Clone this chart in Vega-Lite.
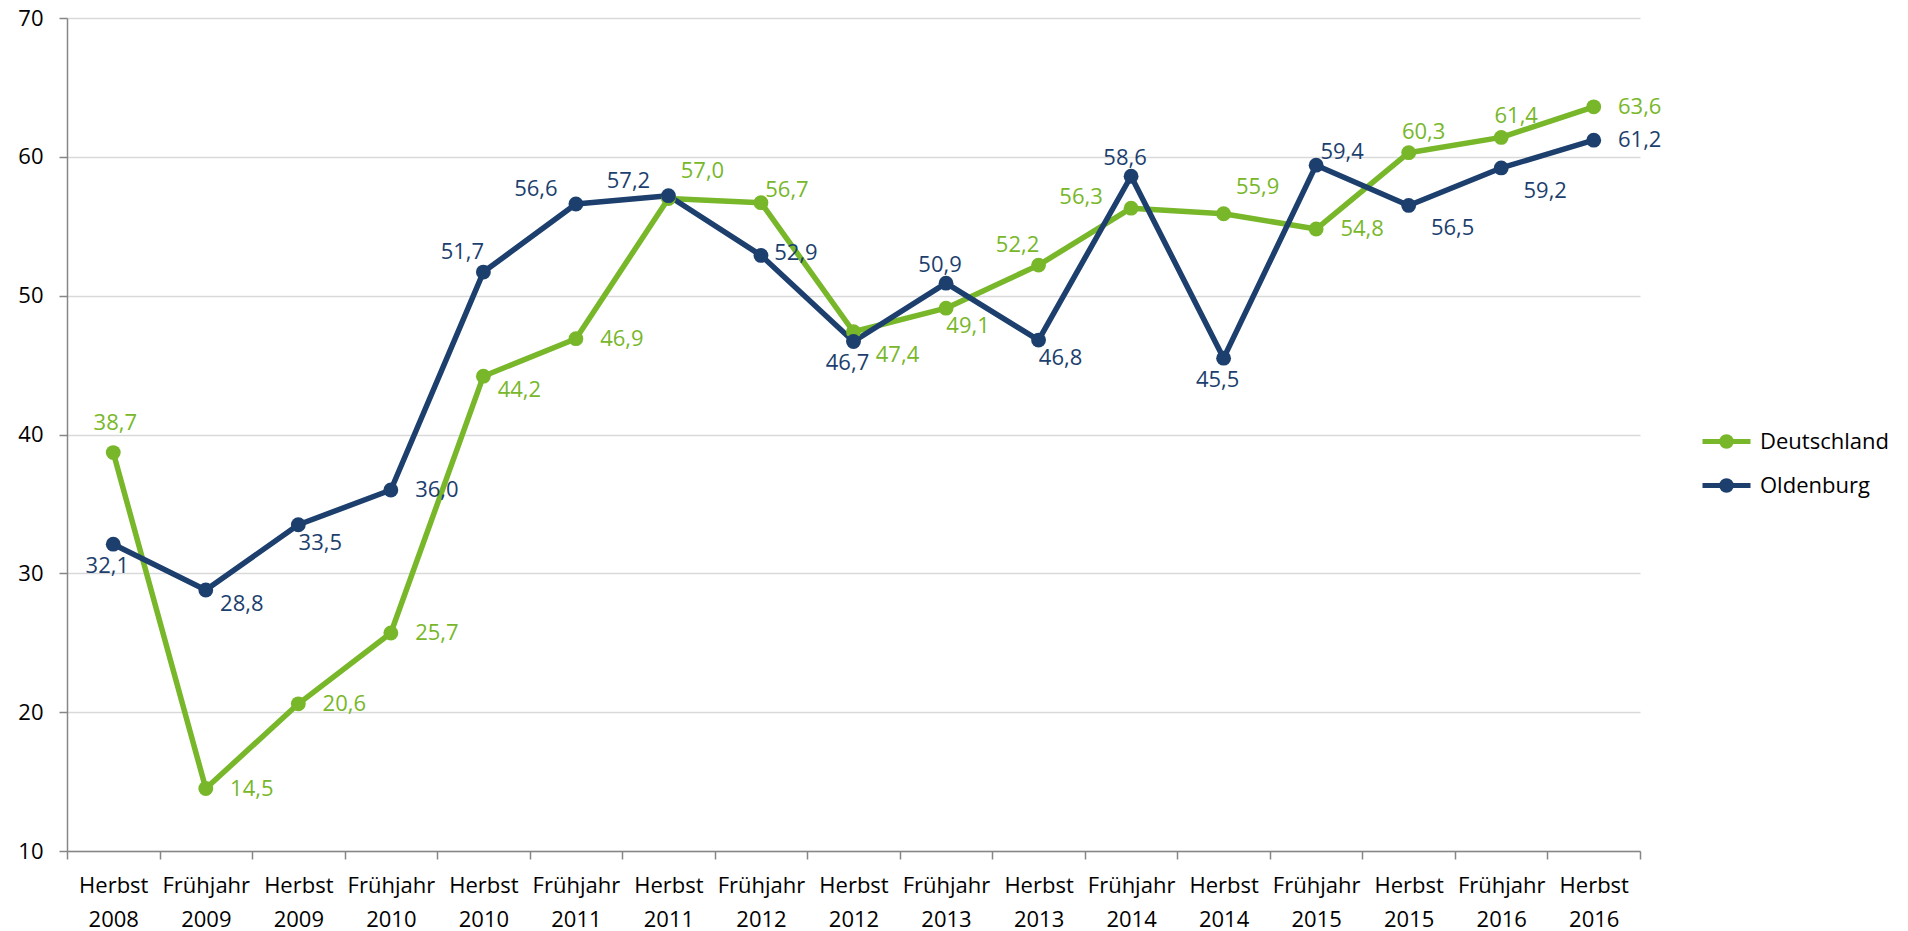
{
  "$schema": "https://vega.github.io/schema/vega-lite/v6.json",
  "width": 1573,
  "height": 833,
  "autosize": "none",
  "padding": {"left": 67, "top": 18, "right": 268, "bottom": 80},
  "background": "#ffffff",
  "config": {
    "view": {"stroke": null},
    "font": "Open Sans",
    "locale": {"number": {"decimal": ",", "thousands": ".", "grouping": [3], "currency": ["", " €"]}}
  },
  "data": {"values": [
    {"period": "Herbst 2008", "series": "Deutschland", "value": 38.7},
    {"period": "Frühjahr 2009", "series": "Deutschland", "value": 14.5},
    {"period": "Herbst 2009", "series": "Deutschland", "value": 20.6},
    {"period": "Frühjahr 2010", "series": "Deutschland", "value": 25.7},
    {"period": "Herbst 2010", "series": "Deutschland", "value": 44.2},
    {"period": "Frühjahr 2011", "series": "Deutschland", "value": 46.9},
    {"period": "Herbst 2011", "series": "Deutschland", "value": 57.0},
    {"period": "Frühjahr 2012", "series": "Deutschland", "value": 56.7},
    {"period": "Herbst 2012", "series": "Deutschland", "value": 47.4},
    {"period": "Frühjahr 2013", "series": "Deutschland", "value": 49.1},
    {"period": "Herbst 2013", "series": "Deutschland", "value": 52.2},
    {"period": "Frühjahr 2014", "series": "Deutschland", "value": 56.3},
    {"period": "Herbst 2014", "series": "Deutschland", "value": 55.9},
    {"period": "Frühjahr 2015", "series": "Deutschland", "value": 54.8},
    {"period": "Herbst 2015", "series": "Deutschland", "value": 60.3},
    {"period": "Frühjahr 2016", "series": "Deutschland", "value": 61.4},
    {"period": "Herbst 2016", "series": "Deutschland", "value": 63.6},
    {"period": "Herbst 2008", "series": "Oldenburg", "value": 32.1},
    {"period": "Frühjahr 2009", "series": "Oldenburg", "value": 28.8},
    {"period": "Herbst 2009", "series": "Oldenburg", "value": 33.5},
    {"period": "Frühjahr 2010", "series": "Oldenburg", "value": 36.0},
    {"period": "Herbst 2010", "series": "Oldenburg", "value": 51.7},
    {"period": "Frühjahr 2011", "series": "Oldenburg", "value": 56.6},
    {"period": "Herbst 2011", "series": "Oldenburg", "value": 57.2},
    {"period": "Frühjahr 2012", "series": "Oldenburg", "value": 52.9},
    {"period": "Herbst 2012", "series": "Oldenburg", "value": 46.7},
    {"period": "Frühjahr 2013", "series": "Oldenburg", "value": 50.9},
    {"period": "Herbst 2013", "series": "Oldenburg", "value": 46.8},
    {"period": "Frühjahr 2014", "series": "Oldenburg", "value": 58.6},
    {"period": "Herbst 2014", "series": "Oldenburg", "value": 45.5},
    {"period": "Frühjahr 2015", "series": "Oldenburg", "value": 59.4},
    {"period": "Herbst 2015", "series": "Oldenburg", "value": 56.5},
    {"period": "Frühjahr 2016", "series": "Oldenburg", "value": 59.2},
    {"period": "Herbst 2016", "series": "Oldenburg", "value": 61.2}
  ]},
  "encoding": {
    "x": {
      "field": "period", "type": "nominal",
      "sort": ["Herbst 2008", "Frühjahr 2009", "Herbst 2009", "Frühjahr 2010", "Herbst 2010", "Frühjahr 2011", "Herbst 2011", "Frühjahr 2012", "Herbst 2012", "Frühjahr 2013", "Herbst 2013", "Frühjahr 2014", "Herbst 2014", "Frühjahr 2015", "Herbst 2015", "Frühjahr 2016", "Herbst 2016"],
      "scale": {"paddingInner": 0, "paddingOuter": 0},
      "axis": {
        "title": null, "labelAngle": 0, "labelExpr": "isString(datum.value) ? split(datum.value, ' ') : ''",
        "labelFontSize": 22, "labelLineHeight": 34, "labelPadding": 16, "labelColor": "#000000",
        "tickBand": "extent", "tickSize": 8, "tickColor": "#868686", "tickWidth": 1.5,
        "domainColor": "#868686", "domainWidth": 1.5, "grid": false
      }
    },
    "y": {
      "field": "value", "type": "quantitative",
      "scale": {"domain": [10, 70], "nice": false, "zero": false},
      "axis": {
        "title": null, "values": [10, 20, 30, 40, 50, 60, 70], "grid": true,
        "gridColor": "#D9D9D9", "gridWidth": 1.3,
        "tickSize": 8, "tickColor": "#868686", "tickWidth": 1.5,
        "domainColor": "#868686", "domainWidth": 1.5,
        "labelFontSize": 22, "labelPadding": 16, "labelColor": "#000000"
      }
    }
  },
  "layer": [
    {
      "mark": {"type": "line", "strokeWidth": 5.5, "strokeJoin": "round", "strokeCap": "round"},
      "encoding": {
        "color": {
          "field": "series", "type": "nominal",
          "scale": {"domain": ["Deutschland", "Oldenburg"], "range": ["#78B72A", "#1C3F6E"]},
          "legend": {
            "orient": "none", "legendX": 1633, "legendY": 397, "title": null, "padding": 0,
            "symbolType": "M-1,0L1,0M0.2,0A0.2,0.2,0,1,1,-0.2,0A0.2,0.2,0,1,1,0.2,0Z",
            "symbolSize": 2304, "symbolStrokeWidth": 5, "labelFontSize": 22, "labelOffset": 7,
            "rowPadding": 2, "labelColor": "#000000", "symbolOpacity": 1,
            "encode": {"symbols": {"update": {"fill": {"scale": "color", "field": "value"}, "stroke": {"scale": "color", "field": "value"}}}}
          }
        }
      }
    },
    {
      "mark": {"type": "point", "filled": true, "size": 220, "opacity": 1},
      "encoding": {
        "color": {"field": "series", "type": "nominal", "scale": {"domain": ["Deutschland", "Oldenburg"], "range": ["#78B72A", "#1C3F6E"]}}
      }
    },
    {
      "transform": [{"filter": "indexof(['D|Frühjahr 2009','D|Herbst 2009','D|Frühjahr 2010','D|Frühjahr 2011','D|Frühjahr 2015','D|Herbst 2016','O|Frühjahr 2010','O|Herbst 2016'], substring(datum.series,0,1)+'|'+datum.period) >= 0"}],
      "mark": {"type": "text", "dx": 46, "dy": 0, "fontSize": 22, "align": "center", "baseline": "middle"},
      "encoding": {"text": {"field": "value", "type": "quantitative", "format": ".1f"}, "fill": {"field": "series", "type": "nominal", "scale": {"domain": ["Deutschland", "Oldenburg"], "range": ["#78B72A", "#1C3F6E"]}, "legend": null}}
    },
    {
      "transform": [{"filter": "indexof(['D|Herbst 2011','D|Herbst 2014'], substring(datum.series,0,1)+'|'+datum.period) >= 0"}],
      "mark": {"type": "text", "dx": 34, "dy": -27, "fontSize": 22, "align": "center", "baseline": "middle"},
      "encoding": {"text": {"field": "value", "type": "quantitative", "format": ".1f"}, "fill": {"field": "series", "type": "nominal", "scale": {"domain": ["Deutschland", "Oldenburg"], "range": ["#78B72A", "#1C3F6E"]}, "legend": null}}
    },
    {
      "transform": [{"filter": "indexof(['D|Herbst 2012','O|Herbst 2015','O|Frühjahr 2016'], substring(datum.series,0,1)+'|'+datum.period) >= 0"}],
      "mark": {"type": "text", "dx": 44, "dy": 23, "fontSize": 22, "align": "center", "baseline": "middle"},
      "encoding": {"text": {"field": "value", "type": "quantitative", "format": ".1f"}, "fill": {"field": "series", "type": "nominal", "scale": {"domain": ["Deutschland", "Oldenburg"], "range": ["#78B72A", "#1C3F6E"]}, "legend": null}}
    },
    {
      "transform": [{"filter": "indexof(['D|Frühjahr 2012','O|Frühjahr 2015'], substring(datum.series,0,1)+'|'+datum.period) >= 0"}],
      "mark": {"type": "text", "dx": 26, "dy": -13, "fontSize": 22, "align": "center", "baseline": "middle"},
      "encoding": {"text": {"field": "value", "type": "quantitative", "format": ".1f"}, "fill": {"field": "series", "type": "nominal", "scale": {"domain": ["Deutschland", "Oldenburg"], "range": ["#78B72A", "#1C3F6E"]}, "legend": null}}
    },
    {
      "transform": [{"filter": "indexof(['D|Herbst 2010','O|Frühjahr 2009'], substring(datum.series,0,1)+'|'+datum.period) >= 0"}],
      "mark": {"type": "text", "dx": 36, "dy": 14, "fontSize": 22, "align": "center", "baseline": "middle"},
      "encoding": {"text": {"field": "value", "type": "quantitative", "format": ".1f"}, "fill": {"field": "series", "type": "nominal", "scale": {"domain": ["Deutschland", "Oldenburg"], "range": ["#78B72A", "#1C3F6E"]}, "legend": null}}
    },
    {
      "transform": [{"filter": "indexof(['D|Frühjahr 2013','O|Herbst 2009','O|Herbst 2013'], substring(datum.series,0,1)+'|'+datum.period) >= 0"}],
      "mark": {"type": "text", "dx": 22, "dy": 18, "fontSize": 22, "align": "center", "baseline": "middle"},
      "encoding": {"text": {"field": "value", "type": "quantitative", "format": ".1f"}, "fill": {"field": "series", "type": "nominal", "scale": {"domain": ["Deutschland", "Oldenburg"], "range": ["#78B72A", "#1C3F6E"]}, "legend": null}}
    },
    {
      "transform": [{"filter": "indexof(['D|Herbst 2015','D|Frühjahr 2016'], substring(datum.series,0,1)+'|'+datum.period) >= 0"}],
      "mark": {"type": "text", "dx": 15, "dy": -21, "fontSize": 22, "align": "center", "baseline": "middle"},
      "encoding": {"text": {"field": "value", "type": "quantitative", "format": ".1f"}, "fill": {"field": "series", "type": "nominal", "scale": {"domain": ["Deutschland", "Oldenburg"], "range": ["#78B72A", "#1C3F6E"]}, "legend": null}}
    },
    {
      "transform": [{"filter": "indexof(['O|Frühjahr 2013','O|Frühjahr 2014'], substring(datum.series,0,1)+'|'+datum.period) >= 0"}],
      "mark": {"type": "text", "dx": -6, "dy": -18, "fontSize": 22, "align": "center", "baseline": "middle"},
      "encoding": {"text": {"field": "value", "type": "quantitative", "format": ".1f"}, "fill": {"field": "series", "type": "nominal", "scale": {"domain": ["Deutschland", "Oldenburg"], "range": ["#78B72A", "#1C3F6E"]}, "legend": null}}
    },
    {
      "transform": [{"filter": "indexof(['O|Herbst 2008','O|Herbst 2012','O|Herbst 2014'], substring(datum.series,0,1)+'|'+datum.period) >= 0"}],
      "mark": {"type": "text", "dx": -6, "dy": 22, "fontSize": 22, "align": "center", "baseline": "middle"},
      "encoding": {"text": {"field": "value", "type": "quantitative", "format": ".1f"}, "fill": {"field": "series", "type": "nominal", "scale": {"domain": ["Deutschland", "Oldenburg"], "range": ["#78B72A", "#1C3F6E"]}, "legend": null}}
    },
    {
      "transform": [{"filter": "indexof(['D|Herbst 2013','O|Herbst 2010'], substring(datum.series,0,1)+'|'+datum.period) >= 0"}],
      "mark": {"type": "text", "dx": -21, "dy": -20, "fontSize": 22, "align": "center", "baseline": "middle"},
      "encoding": {"text": {"field": "value", "type": "quantitative", "format": ".1f"}, "fill": {"field": "series", "type": "nominal", "scale": {"domain": ["Deutschland", "Oldenburg"], "range": ["#78B72A", "#1C3F6E"]}, "legend": null}}
    },
    {
      "transform": [{"filter": "indexof(['O|Frühjahr 2011','O|Herbst 2011'], substring(datum.series,0,1)+'|'+datum.period) >= 0"}],
      "mark": {"type": "text", "dx": -40, "dy": -15, "fontSize": 22, "align": "center", "baseline": "middle"},
      "encoding": {"text": {"field": "value", "type": "quantitative", "format": ".1f"}, "fill": {"field": "series", "type": "nominal", "scale": {"domain": ["Deutschland", "Oldenburg"], "range": ["#78B72A", "#1C3F6E"]}, "legend": null}}
    },
    {
      "transform": [{"filter": "indexof(['D|Frühjahr 2014'], substring(datum.series,0,1)+'|'+datum.period) >= 0"}],
      "mark": {"type": "text", "dx": -50, "dy": -11, "fontSize": 22, "align": "center", "baseline": "middle"},
      "encoding": {"text": {"field": "value", "type": "quantitative", "format": ".1f"}, "fill": {"field": "series", "type": "nominal", "scale": {"domain": ["Deutschland", "Oldenburg"], "range": ["#78B72A", "#1C3F6E"]}, "legend": null}}
    },
    {
      "transform": [{"filter": "indexof(['D|Herbst 2008'], substring(datum.series,0,1)+'|'+datum.period) >= 0"}],
      "mark": {"type": "text", "dx": 2, "dy": -30, "fontSize": 22, "align": "center", "baseline": "middle"},
      "encoding": {"text": {"field": "value", "type": "quantitative", "format": ".1f"}, "fill": {"field": "series", "type": "nominal", "scale": {"domain": ["Deutschland", "Oldenburg"], "range": ["#78B72A", "#1C3F6E"]}, "legend": null}}
    },
    {
      "transform": [{"filter": "indexof(['O|Frühjahr 2012'], substring(datum.series,0,1)+'|'+datum.period) >= 0"}],
      "mark": {"type": "text", "dx": 35, "dy": -2, "fontSize": 22, "align": "center", "baseline": "middle"},
      "encoding": {"text": {"field": "value", "type": "quantitative", "format": ".1f"}, "fill": {"field": "series", "type": "nominal", "scale": {"domain": ["Deutschland", "Oldenburg"], "range": ["#78B72A", "#1C3F6E"]}, "legend": null}}
    }
  ]
}
